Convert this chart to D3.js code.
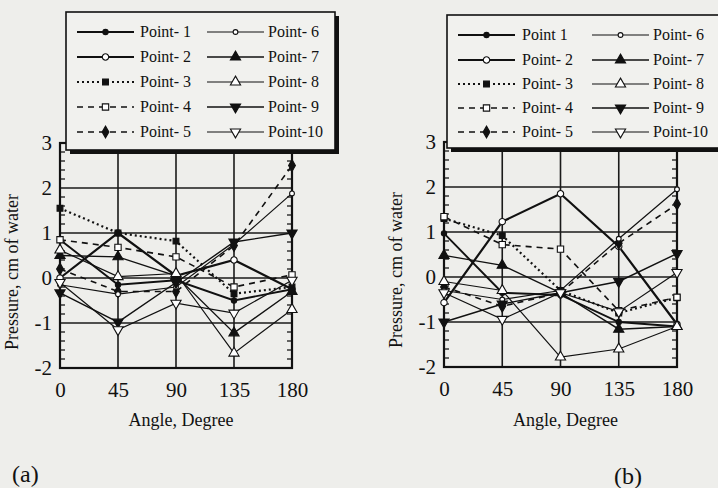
<!DOCTYPE html>
<html>
<head>
<meta charset="utf-8">
<script src="https://cdn.jsdelivr.net/npm/d3@7"></script>
<style>
  body { margin: 0; background: #eeeeeb; }
  svg { display: block; font-family: "Liberation Serif", "DejaVu Serif", serif; }
</style>
</head>
<body>
<div id="root"></div>
<script>
const angles = [0, 45, 90, 135, 180];
const yTicks = [-2, -1, 0, 1, 2, 3];

const namesA = ["Point- 1", "Point- 2", "Point- 3", "Point- 4", "Point- 5",
  "Point- 6", "Point- 7", "Point- 8", "Point- 9", "Point-10"];
const namesB = ["Point 1", "Point- 2", "Point- 3", "Point- 4", "Point- 5",
  "Point- 6", "Point- 7", "Point- 8", "Point- 9", "Point-10"];

// pressure per angle, one row per measuring point (a)
const valuesA = [
  [0.85, -0.15, -0.05, -0.5, -0.25],
  [0.0, 1.0, 0.05, 0.4, -0.25],
  [1.55, 1.0, 0.82, -0.35, -0.2],
  [0.85, 0.68, 0.47, -0.2, 0.07],
  [0.2, -0.3, -0.3, 0.72, 2.5],
  [-0.15, -0.36, -0.2, 0.75, 1.88],
  [0.5, 0.47, 0.05, -1.22, -0.3],
  [0.62, 0.03, 0.1, -1.67, -0.7],
  [-0.33, -0.98, -0.1, 0.8, 1.0],
  [-0.1, -1.15, -0.56, -0.78, -0.05]
];

// (b)
const valuesB = [
  [0.97, -0.35, -0.4, -1.0, -1.1],
  [-0.57, 1.23, 1.85, 0.68, -1.05],
  [1.3, 0.92, -0.3, -0.8, -0.46],
  [1.34, 0.72, 0.62, -0.75, -0.45],
  [-0.22, -0.65, -0.35, 0.75, 1.62],
  [-0.3, -0.5, -0.3, 0.85, 1.95],
  [0.48, 0.26, -0.35, -1.16, -1.1],
  [-0.1, -0.3, -1.78, -1.6, -1.1],
  [-1.0, -0.6, -0.35, -0.1, 0.52],
  [-0.35, -0.94, -0.35, -0.77, 0.1]
];

// line style and marker per point
const styles = [
  { w: 1.9, dash: null, sym: d3.symbolCircle, size: 22, fill: "#111", rot: 0 },
  { w: 2.2, dash: null, sym: d3.symbolCircle, size: 32, fill: "#fff", rot: 0 },
  { w: 2.2, dash: "2,3", sym: d3.symbolSquare, size: 34, fill: "#111", rot: 0 },
  { w: 1.6, dash: "6,5", sym: d3.symbolSquare, size: 40, fill: "#fff", rot: 0 },
  { w: 1.6, dash: "6,5", sym: d3.symbolDiamond, size: 40, fill: "#111", rot: 0 },
  { w: 1.2, dash: null, sym: d3.symbolCircle, size: 18, fill: "#fff", rot: 0 },
  { w: 1.4, dash: null, sym: d3.symbolTriangle, size: 45, fill: "#111", rot: 0 },
  { w: 1.2, dash: null, sym: d3.symbolTriangle, size: 45, fill: "#fff", rot: 0 },
  { w: 1.4, dash: null, sym: d3.symbolTriangle, size: 45, fill: "#111", rot: 180 },
  { w: 1.2, dash: null, sym: d3.symbolTriangle, size: 45, fill: "#fff", rot: 180 }
];

const width = 718;
const height = 488;

const svg = d3.select("#root")
  .append("svg")
  .attr("width", width)
  .attr("height", height);

svg.append("rect").attr("width", width).attr("height", height).attr("fill", "#eeeeeb");

const panels = [
  { values: valuesA, names: namesA, x0: 60, x1: 292, y0: 368, y1: 143,
    legend: { x: 66, y: 12, w: 269, h: 138, c1: 77, c2: 207, t1: 140, t2: 268, rows: [32, 57, 82, 107, 132] },
    label: "(a)", lx: 12, ly: 482, ylx: 18, yly: 272 },
  { values: valuesB, names: namesB, x0: 444, x1: 677, y0: 367, y1: 142,
    legend: { x: 447, y: 15, w: 290, h: 133, c1: 458, c2: 592, t1: 522, t2: 653, rows: [35, 60, 84, 108, 132] },
    label: "(b)", lx: 614, ly: 484, ylx: 402, yly: 270 }
];

panels.forEach((p) => drawPanel(p));

function drawPanel(p) {
  const x = d3.scaleLinear().domain([0, 180]).range([p.x0, p.x1]);
  const y = d3.scaleLinear().domain([-2, 3]).range([p.y0, p.y1]);
  const g = svg.append("g");

  // grid
  g.selectAll(".vgrid")
    .data(angles)
    .join("line")
    .attr("x1", (d) => x(d)).attr("x2", (d) => x(d))
    .attr("y1", y(-2)).attr("y2", y(3))
    .attr("stroke", "#1a1a1a").attr("stroke-width", 1.6);
  g.selectAll(".hgrid")
    .data(yTicks)
    .join("line")
    .attr("x1", x(0)).attr("x2", x(180))
    .attr("y1", (d) => y(d)).attr("y2", (d) => y(d))
    .attr("stroke", "#1a1a1a").attr("stroke-width", 1.6);

  // minor ticks on both sides
  const minor = d3.range(-2, 3.001, 0.2).filter((v) => Math.abs(v - Math.round(v)) > 0.01);
  g.selectAll(".mleft")
    .data(minor)
    .join("line")
    .attr("x1", x(0)).attr("x2", x(0) + 5)
    .attr("y1", (d) => y(d)).attr("y2", (d) => y(d))
    .attr("stroke", "#1a1a1a").attr("stroke-width", 1.3);
  g.selectAll(".mright")
    .data(minor)
    .join("line")
    .attr("x1", x(180)).attr("x2", x(180) - 5)
    .attr("y1", (d) => y(d)).attr("y2", (d) => y(d))
    .attr("stroke", "#1a1a1a").attr("stroke-width", 1.3);

  // axes labels
  const xAxis = d3.axisBottom(x).tickValues(angles).tickSize(0).tickPadding(14)
    .tickFormat((d) => String(d));
  const gx = g.append("g").attr("transform", `translate(0,${y(-2)})`).call(xAxis);
  gx.select(".domain").remove();
  gx.selectAll("text").attr("font-size", 21).attr("font-family", "Liberation Serif").attr("fill", "#111");

  const yAxis = d3.axisLeft(y).tickValues(yTicks).tickSize(0).tickPadding(8)
    .tickFormat((d) => String(d));
  const gy = g.append("g").attr("transform", `translate(${x(0)},0)`).call(yAxis);
  gy.select(".domain").remove();
  gy.selectAll("text").attr("font-size", 21).attr("font-family", "Liberation Serif").attr("fill", "#111");

  // frame
  g.append("rect")
    .attr("x", x(0)).attr("y", y(3))
    .attr("width", x(180) - x(0)).attr("height", y(-2) - y(3))
    .attr("fill", "none").attr("stroke", "#111").attr("stroke-width", 2.2);

  // series
  const line = d3.line().x((d, i) => x(angles[i])).y((d) => y(d));
  p.values.forEach((vals, k) => {
    const s = styles[k];
    g.append("path")
      .datum(vals)
      .attr("d", line)
      .attr("fill", "none")
      .attr("stroke", "#111")
      .attr("stroke-width", s.w)
      .attr("stroke-dasharray", s.dash);
  });
  p.values.forEach((vals, k) => {
    const s = styles[k];
    g.selectAll(null)
      .data(vals)
      .join("path")
      .attr("d", d3.symbol().type(s.sym).size(s.size))
      .attr("transform", (d, i) => `translate(${x(angles[i])},${y(d)}) rotate(${s.rot})`)
      .attr("fill", s.fill)
      .attr("stroke", "#111")
      .attr("stroke-width", 1.1);
  });

  // axis titles
  g.append("text")
    .attr("x", (x(0) + x(180)) / 2 + 5)
    .attr("y", 426)
    .attr("text-anchor", "middle")
    .attr("font-size", 18)
    .attr("fill", "#111")
    .text("Angle, Degree");
  g.append("text")
    .attr("transform", `translate(${p.ylx},${p.yly}) rotate(-90)`)
    .attr("text-anchor", "middle")
    .attr("font-size", 18)
    .attr("fill", "#111")
    .text("Pressure, cm of water");
  g.append("text")
    .attr("x", p.lx)
    .attr("y", p.ly)
    .attr("font-size", 24)
    .attr("fill", "#111")
    .text(p.label);

  // legend
  const L = p.legend;
  const lg = svg.append("g");
  lg.append("rect")
    .attr("x", L.x + 4).attr("y", L.y + 4)
    .attr("width", L.w).attr("height", L.h)
    .attr("fill", "#111");
  lg.append("rect")
    .attr("x", L.x).attr("y", L.y)
    .attr("width", L.w).attr("height", L.h)
    .attr("fill", "#f1f1ee")
    .attr("stroke", "#111").attr("stroke-width", 1.6);

  p.names.forEach((name, k) => {
    const s = styles[k];
    const col = k < 5 ? 0 : 1;
    const ry = L.rows[k % 5];
    const lx0 = col === 0 ? L.c1 : L.c2;
    const lx1 = lx0 + 57;
    lg.append("line")
      .attr("x1", lx0).attr("x2", lx1)
      .attr("y1", ry).attr("y2", ry)
      .attr("stroke", "#111")
      .attr("stroke-width", s.w)
      .attr("stroke-dasharray", s.dash);
    lg.append("path")
      .attr("d", d3.symbol().type(s.sym).size(s.size))
      .attr("transform", `translate(${(lx0 + lx1) / 2},${ry}) rotate(${s.rot})`)
      .attr("fill", s.fill)
      .attr("stroke", "#111")
      .attr("stroke-width", 1.1);
    lg.append("text")
      .attr("x", col === 0 ? L.t1 : L.t2)
      .attr("y", ry + 5)
      .attr("font-size", 16)
      .attr("fill", "#111")
      .text(name);
  });
}
</script>
</body>
</html>
